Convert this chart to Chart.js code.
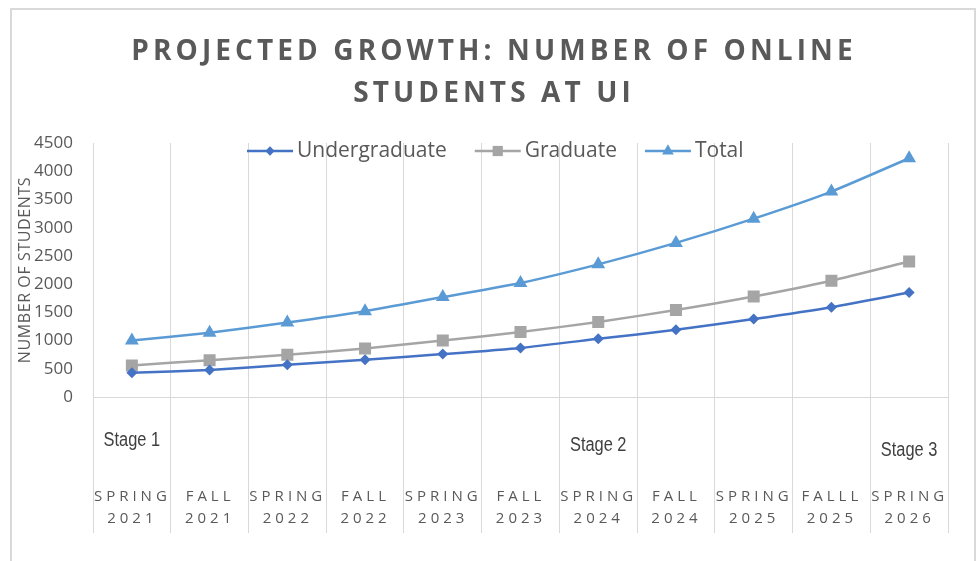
<!DOCTYPE html>
<html>
<head>
<meta charset="utf-8">
<title>Projected Growth: Number of Online Students at UI</title>
<script src="https://cdn.jsdelivr.net/npm/chart.js@4.4.0/dist/chart.umd.min.js"></script>
<style>
  html, body { margin: 0; padding: 0; background: #fff; }
  #wrap { position: relative; width: 978px; height: 561px; overflow: hidden; }
  #frame { position: absolute; left: 10px; top: 8px; width: 966px; height: 600px; border: 2px solid #D9D9D9; box-sizing: border-box; }
  #chart { position: absolute; left: 0; top: 0; }
</style>
</head>
<body>
<div id="wrap">
  <div id="frame"></div>
  <canvas id="chart" width="978" height="561"></canvas>
</div>
<script>
// Semester labels (two lines each) and the stage notes under them
const semesters = [
    ['SPRING', '2021'], ['FALL', '2021'], ['SPRING', '2022'], ['FALL', '2022'],
    ['SPRING', '2023'], ['FALL', '2023'], ['SPRING', '2024'], ['FALL', '2024'],
    ['SPRING', '2025'], ['FALLL', '2025'], ['SPRING', '2026']
];
const stages = ['Stage 1', '', '', '', '', '', 'Stage 2', '', '', '', 'Stage 3'];

// Projected number of online students
const undergraduate = [430, 480, 570, 660, 760, 870, 1030, 1190, 1380, 1590, 1850];
const graduate = [560, 650, 750, 860, 1000, 1150, 1330, 1540, 1780, 2060, 2400];
const total = [1000, 1140, 1320, 1520, 1770, 2020, 2350, 2730, 3160, 3640, 4230];

const TEXT_GRAY = '#595959';
const GRID_GRAY = '#D9D9D9';

Chart.defaults.font.family = "'Open Sans', sans-serif";

// Wrap a draw method so its text gets letter spacing (Excel style caps)
function withSpacing(obj, method, spacing, shift) {
    if (!obj || obj['_spaced_' + method]) return;
    const orig = obj[method];
    obj[method] = function () {
        const ctx = this.ctx;
        ctx.save();
        ctx.letterSpacing = spacing;
        ctx.translate(shift, 0);
        orig.apply(this, arguments);
        ctx.restore();
    };
    obj['_spaced_' + method] = true;
}

const spacingPlugin = {
    id: 'spacing',
    afterUpdate(chart) {
        withSpacing(chart.titleBlock, 'draw', '4.1px', 12);
        withSpacing(chart.scales.x, 'drawLabels', '4px', 0.5);
        withSpacing(chart.scales.y, 'drawTitle', '0.6px', 0);
    }
};

// Legend drawn inside the plot, line + marker + name
const legendPlugin = {
    id: 'seriesLegend',
    afterDatasetsDraw(chart) {
        const ctx = chart.ctx;
        const y = 151;
        let x = 247;
        ctx.save();
        ctx.font = "21px 'Open Sans'";
        ctx.textBaseline = 'middle';
        chart.data.datasets.forEach(function (ds) {
            ctx.strokeStyle = ds.borderColor;
            ctx.fillStyle = ds.backgroundColor;
            ctx.lineWidth = 2.5;
            ctx.beginPath();
            ctx.moveTo(x, y);
            ctx.lineTo(x + 46, y);
            ctx.stroke();
            Chart.helpers.drawPoint(ctx, {
                pointStyle: ds.pointStyle,
                radius: ds.pointRadius * 0.85,
                rotation: 0,
                borderWidth: 0
            }, x + 23, y);
            ctx.fillStyle = TEXT_GRAY;
            ctx.fillText(ds.label, x + 50, y);
            x += 50 + ctx.measureText(ds.label).width + 28;
        });
        ctx.restore();
    }
};

// Stage notes between the axis line and the semester labels (narrow face)
const stagePlugin = {
    id: 'stages',
    afterDraw(chart) {
        const ctx = chart.ctx;
        const xScale = chart.scales.x;
        const drop = { 0: 49, 6: 54, 10: 59 };
        ctx.save();
        ctx.font = "20px 'Liberation Sans', Arial, sans-serif";
        ctx.fillStyle = '#404040';
        ctx.textAlign = 'center';
        ctx.textBaseline = 'alphabetic';
        stages.forEach(function (s, i) {
            if (!s) return;
            const cx = xScale.getPixelForValue(i);
            ctx.save();
            ctx.translate(cx, xScale.top + (drop[i] || 50));
            ctx.scale(0.82, 1);
            ctx.fillText(s, 0, 0);
            ctx.restore();
        });
        ctx.restore();
    }
};

function makeSeries(label, data, color, style, radius) {
    return {
        label: label,
        data: data,
        borderColor: color,
        backgroundColor: color,
        borderWidth: 2.5,
        pointStyle: style,
        pointRadius: radius,
        pointBorderWidth: 0,
        pointBackgroundColor: color,
        tension: 0.2
    };
}

new Chart(document.getElementById('chart'), {
    type: 'line',
    data: {
        labels: semesters,
        datasets: [
            makeSeries('Undergraduate', undergraduate, '#4472C4', 'rectRot', 5.5),
            makeSeries('Graduate', graduate, '#A5A5A5', 'rect', 8.5),
            makeSeries('Total', total, '#5B9BD5', 'triangle', 8)
        ]
    },
    options: {
        responsive: false,
        animation: false,
        layout: { padding: { left: 16, right: 30, top: 0, bottom: 31 } },
        plugins: {
            legend: { display: false },
            tooltip: { enabled: false },
            title: {
                display: true,
                text: ['PROJECTED GROWTH: NUMBER OF ONLINE', 'STUDENTS AT UI'],
                color: TEXT_GRAY,
                font: { size: 28, weight: '700', lineHeight: 1.5 },
                padding: { top: 31, bottom: 28 }
            }
        },
        scales: {
            x: {
                offset: true,
                grid: { offset: true, color: GRID_GRAY, tickLength: 136 },
                border: { color: GRID_GRAY },
                ticks: {
                    color: TEXT_GRAY,
                    font: { size: 15, lineHeight: 1.467 },
                    padding: -47,
                    maxRotation: 0,
                    autoSkip: false
                },
                afterFit(scale) { scale.height = 133; }
            },
            y: {
                min: 0,
                max: 4500,
                ticks: {
                    stepSize: 500,
                    color: TEXT_GRAY,
                    font: { size: 17 },
                    padding: 20,
                    callback: function (v) { return String(v); }
                },
                grid: { display: false, drawTicks: false },
                border: { display: false },
                title: {
                    display: true,
                    text: 'NUMBER OF STUDENTS',
                    color: TEXT_GRAY,
                    font: { size: 16, lineHeight: 1.2 },
                    padding: 0
                },
                afterFit(scale) { scale.width = 77; }
            }
        }
    },
    plugins: [spacingPlugin, legendPlugin, stagePlugin]
});
</script>
</body>
</html>
